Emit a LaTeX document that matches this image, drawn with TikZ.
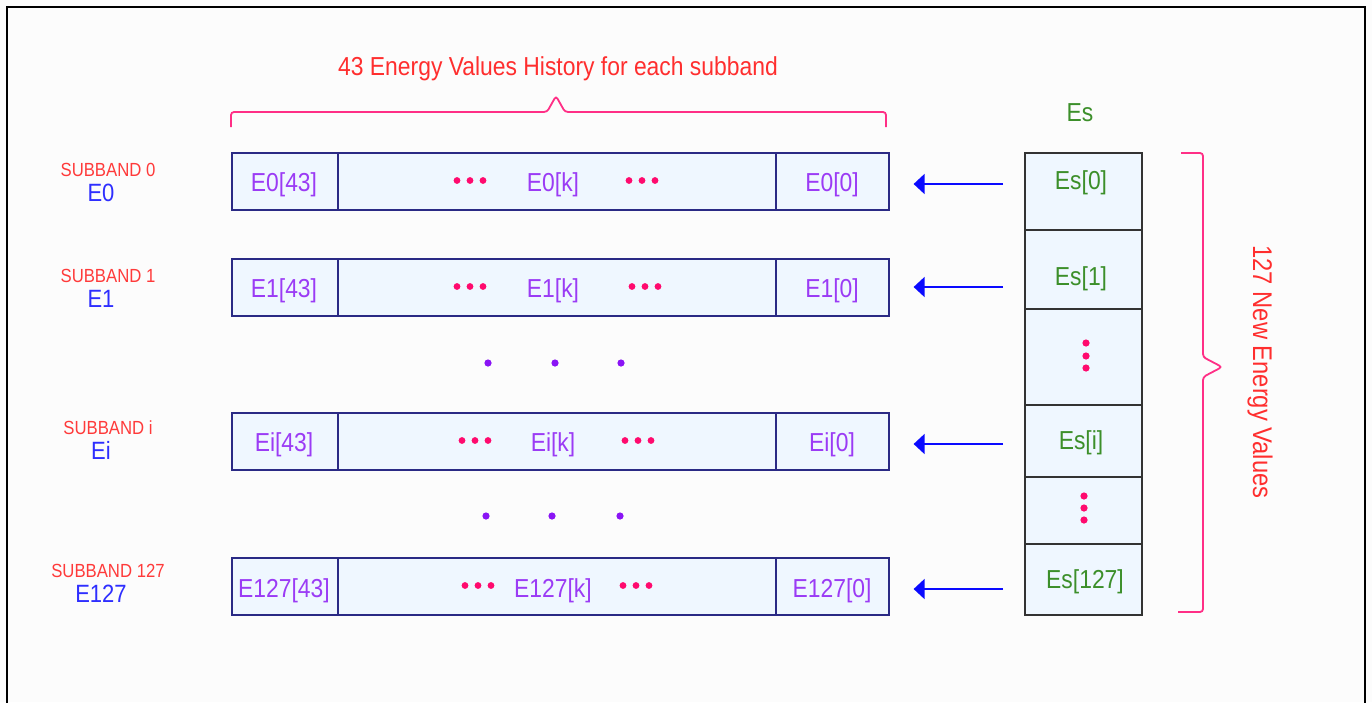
\documentclass[tikz,border=0pt]{standalone}
\usepackage{fontspec}
\setmainfont{Liberation Sans}[FakeStretch=0.88]
\usetikzlibrary{arrows.meta}
\definecolor{boxfill}{HTML}{EFF7FF}
\definecolor{navy}{HTML}{2A2A85}
\definecolor{esborder}{HTML}{333333}
\definecolor{txtpurple}{HTML}{9B3BF5}
\definecolor{dotpink}{HTML}{FF0A6E}
\definecolor{dotpurple}{HTML}{8A14F5}
\definecolor{titlered}{HTML}{FF2E2E}
\definecolor{bracepink}{HTML}{FF2F86}
\definecolor{subred}{HTML}{FF3A3A}
\definecolor{eblue}{HTML}{2E2EFF}
\definecolor{esgreen}{HTML}{3C8F2A}
\definecolor{arrblue}{HTML}{0A0AFF}
\begin{document}
\begin{tikzpicture}[x=1pt,y=-1pt,
  cell/.style={draw=navy, fill=boxfill, line width=1.6pt, inner sep=0pt,
    minimum height=57pt, anchor=north west},
  escell/.style={draw=esborder, fill=boxfill, line width=1.6pt, inner sep=0pt,
    minimum width=117pt, anchor=north west},
  boxtxt/.style={text=txtpurple, font=\fontsize{26}{30}\selectfont, inner sep=0pt, anchor=base},
  estxt/.style={text=esgreen, font=\fontsize{26}{30}\selectfont, inner sep=0pt, anchor=base},
  subtxt/.style={text=subred, font=\fontsize{19}{22}\selectfont, inner sep=0pt, anchor=base},
  etxt/.style={text=eblue, font=\fontsize{25}{29}\selectfont, inner sep=0pt, anchor=base},
  titletxt/.style={text=titlered, font=\fontsize{26}{30}\selectfont, inner sep=0pt},
  brace/.style={draw=bracepink, line width=1.8pt, rounded corners=3pt},
  arr/.style={draw=arrblue, line width=1.8pt, -{Triangle[length=11pt,width=20pt]},
    shorten <=21pt, shorten >=24pt}
]
\useasboundingbox (0,0) rectangle (1372,702);
\fill[white!99!black] (0,0) rectangle (1372,702);
\draw[line width=2pt] (7,720) -- (7,7) -- (1365,7) -- (1365,720);

% title and top brace
\node[titletxt, anchor=base] (title) at (558,75) {43 Energy Values History for each subband};
\draw[brace] (231,127) -- (231,112) -- (547,112) -- (556,96) -- (565,112) -- (886,112) -- (886,127);

% rows
\foreach \r/\y/\base/\sb/\eb/\dl/\dr in {0/152/191/176/201/470/642, 1/258/297/282/307/470/645,
    i/412/451/434/459/475/638, 127/557/597/577/602/478/636}{
  \node[cell, minimum width=106pt] (a\r) at (231,\y) {};
  \node[cell, minimum width=438pt] (m\r) at (337,\y) {};
  \node[cell, minimum width=113pt] (b\r) at (775,\y) {};
  \node[boxtxt] (ta\r) at (284,\base) {E\r[43]};
  \node[boxtxt] (tm\r) at (553,\base) {E\r[k]};
  \node[boxtxt] (tb\r) at (832,\base) {E\r[0]};
  \node[subtxt] (s\r) at (108,\sb) {SUBBAND \r};
  \node[etxt] (e\r) at (101,\eb) {E\r};
  \foreach \dx in {-13,0,13}{
    \fill[dotpink] ({\dl+\dx},{\y+28.5}) circle (3.4);
    \fill[dotpink] ({\dr+\dx},{\y+28.5}) circle (3.4);
  }
}

% vertical ellipsis between rows
\foreach \px/\py in {488/363, 555/363, 621/363, 486/516, 552/516, 620/516}{
  \fill[dotpurple] (\px,\py) circle (3.6);
}

% Es column
\node[text=esgreen, font=\fontsize{26}{30}\selectfont, inner sep=0pt, anchor=base] (eshead) at (1080,121) {Es};
\node[escell, minimum height=77pt] (es0) at (1024,152) {};
\node[escell, minimum height=79pt] (es1) at (1024,229) {};
\node[escell, minimum height=96pt] (esd1) at (1024,308) {};
\node[escell, minimum height=72pt] (esi) at (1024,404) {};
\node[escell, minimum height=67pt] (esd2) at (1024,476) {};
\node[escell, minimum height=71pt] (es127) at (1024,543) {};
\node[estxt] (tes0) at (1081,189) {Es[0]};
\node[estxt] (tes1) at (1081,285) {Es[1]};
\node[estxt] (tesi) at (1081,449) {Es[i]};
\node[estxt] (tes127) at (1085,588) {Es[127]};
\foreach \dy in {343,356,368}{ \fill[dotpink] (1086,\dy) circle (3.6); }
\foreach \dy in {496,508,520}{ \fill[dotpink] (1084,\dy) circle (3.6); }

% arrows
\draw[arr] (es0.west |- 0,184) -- (b0.east |- 0,184);
\draw[arr] (es1.west |- 0,287) -- (b1.east |- 0,287);
\draw[arr] (esi.west |- 0,444) -- (bi.east |- 0,444);
\draw[arr] (es127.west |- 0,589) -- (b127.east |- 0,589);

% right brace and label
\draw[brace] (1181,153) -- (1203,153) -- (1203,357) -- (1222,367) -- (1203,377) -- (1203,612) -- (1178,612);
\node[titletxt, rotate=-90, font=\fontsize{27}{30}\selectfont] (newlab) at (1260,372) {127 New Energy Values};
\end{tikzpicture}
\end{document}
